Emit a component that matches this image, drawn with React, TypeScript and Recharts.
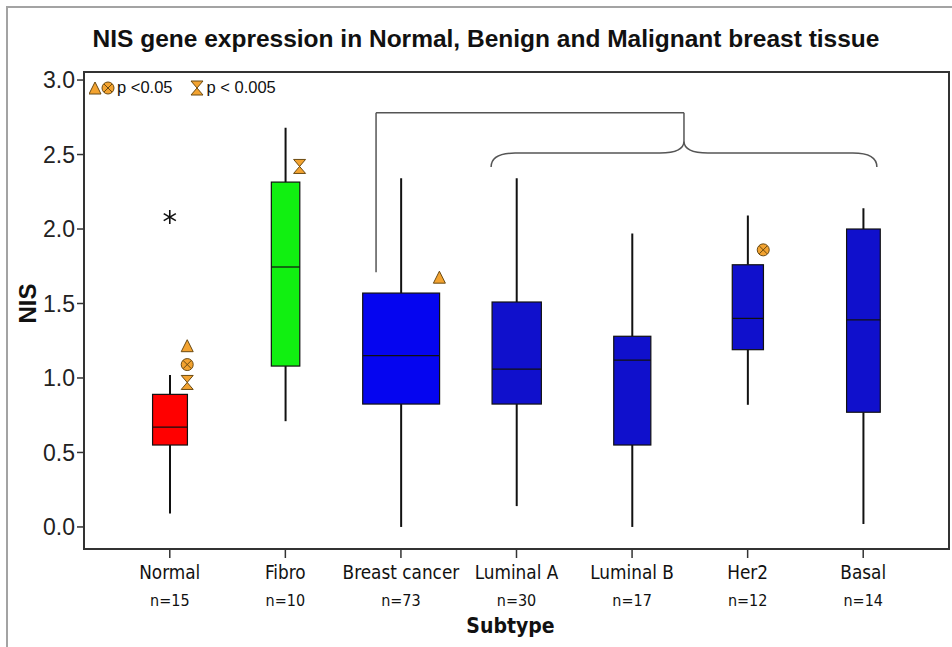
import React from 'react';
import {
  ComposedChart, Bar, Scatter, XAxis, YAxis, ReferenceLine, ReferenceArea,
} from 'recharts';

const categories = ['Normal', 'Fibro', 'Breast cancer', 'Luminal A', 'Luminal B', 'Her2', 'Basal'];
const counts = [15, 10, 73, 30, 17, 12, 14];
const whiskerLow = [0.09, 0.71, 0.0, 0.14, 0.0, 0.82, 0.02];
const quart1 = [0.55, 1.08, 0.825, 0.825, 0.55, 1.19, 0.77];
const medians = [0.67, 1.745, 1.15, 1.06, 1.12, 1.40, 1.39];
const quart3 = [0.89, 2.315, 1.57, 1.51, 1.28, 1.76, 2.0];
const whiskerHigh = [1.02, 2.68, 2.34, 2.34, 1.97, 2.09, 2.14];

// significance markers and outliers
const triangleMarks = [1.21, null, 1.67, null, null, null, null];
const circleMarks = [1.09, null, null, null, null, 1.86, null];
const hourglassMarks = [0.97, 2.42, null, null, null, null, null];
const outlierMarks = [2.08, null, null, null, null, null, null];

const yTicks = [0, 0.5, 1, 1.5, 2, 2.5, 3];

// bracket annotation (x in category index units)
const bracketLeftX = 1.784;
const bracketMidX = 4.45;
const bracketBottomY = 1.71;
const bracketTopY = 2.78;
const braceJoinY = 2.59;
const braceFromX = 2.78;
const braceToX = 6.12;
const braceY = 2.51;

const boxColors = ['#ff0000', '#11f011', '#0505f0', '#1010cc', '#1010cc', '#1010cc', '#1010cc'];
const ORANGE = '#f3a330';
const MARK_STROKE = '#6b4a12';
const BOX_SCALE = 9; // box width in px per sqrt(n)

const Y_DOMAIN: [number, number] = [-0.148, 3.054];
const X_NUM_DOMAIN: [number, number] = [0, 6];
const X_EDGE = 0.7446; // plot edge beyond first/last category, index units

const SANS = '"Liberation Sans", Arial, sans-serif';
const NARROW = '"Liberation Sans Narrow", "DejaVu Sans Condensed", "Liberation Sans", sans-serif';

const rows = categories.map((name, i) => ({
  name,
  n: counts[i],
  lo: whiskerLow[i],
  q1: quart1[i],
  med: medians[i],
  q3: quart3[i],
  hi: whiskerHigh[i],
  tri: triangleMarks[i],
  circ: circleMarks[i],
  hour: hourglassMarks[i],
  out: outlierMarks[i],
}));

function BoxShape(props: any) {
  const { x, y, width, height, payload } = props;
  const top = Math.min(y, y + height);
  const bot = Math.max(y, y + height);
  const px = (v: number) => bot + ((top - bot) * (v - payload.lo)) / (payload.hi - payload.lo);
  const cx = x + width / 2;
  const bw = BOX_SCALE * Math.sqrt(payload.n);
  const color = boxColors[categories.indexOf(payload.name)];
  return (
    <g>
      <line x1={cx} x2={cx} y1={px(payload.hi)} y2={px(payload.q3)} stroke="#111" strokeWidth={2} />
      <line x1={cx} x2={cx} y1={px(payload.q1)} y2={px(payload.lo)} stroke="#111" strokeWidth={2} />
      <rect x={cx - bw / 2} y={px(payload.q3)} width={bw} height={px(payload.q1) - px(payload.q3)}
        fill={color} stroke="#111" strokeWidth={1.2} />
      <line x1={cx - bw / 2} x2={cx + bw / 2} y1={px(payload.med)} y2={px(payload.med)} stroke="#111" strokeWidth={1.2} />
    </g>
  );
}

function Triangle({ x, y }: { x: number; y: number }) {
  return <polygon points={`${x},${y - 7} ${x - 6},${y + 5} ${x + 6},${y + 5}`} fill={ORANGE} stroke={MARK_STROKE} strokeWidth={1} />;
}
function CircleX({ x, y }: { x: number; y: number }) {
  const d = 4;
  return (
    <g>
      <circle cx={x} cy={y} r={6} fill={ORANGE} stroke={MARK_STROKE} strokeWidth={1} />
      <line x1={x - d} y1={y - d} x2={x + d} y2={y + d} stroke={MARK_STROKE} strokeWidth={1} />
      <line x1={x - d} y1={y + d} x2={x + d} y2={y - d} stroke={MARK_STROKE} strokeWidth={1} />
    </g>
  );
}
function Hourglass({ x, y }: { x: number; y: number }) {
  return <path d={`M${x - 6},${y - 7} L${x + 6},${y - 7} L${x - 6},${y + 7} L${x + 6},${y + 7} Z`} fill={ORANGE} stroke={MARK_STROKE} strokeWidth={1} strokeLinejoin="round" />;
}
function Asterisk({ x, y }: { x: number; y: number }) {
  const r = 7;
  const angles = [90, 30, -30];
  return (
    <g stroke="#111" strokeWidth={1.6}>
      {angles.map((a) => {
        const dx = r * Math.cos((a * Math.PI) / 180);
        const dy = r * Math.sin((a * Math.PI) / 180);
        return <line key={a} x1={x - dx} y1={y - dy} x2={x + dx} y2={y + dy} />;
      })}
    </g>
  );
}

const markerShape = (key: string, Comp: any, atEdge: boolean) => (props: any) => {
  const { cx, cy, payload } = props;
  if (!payload || payload[key] == null || !isFinite(cy)) return <g />;
  const dx = atEdge ? (BOX_SCALE * Math.sqrt(payload.n)) / 2 : 0;
  return <Comp x={cx + dx} y={cy} />;
};

function CategoryTick(props: any) {
  const { x, y, payload } = props;
  const i = categories.indexOf(payload.value);
  return (
    <g>
      <text x={x} y={y + 19} textAnchor="middle" fontFamily={NARROW} fontSize={18.8} fill="#111">{payload.value}</text>
      <text x={x} y={y + 46} textAnchor="middle" fontFamily={NARROW} fontSize={16} fill="#111">{`n=${counts[i]}`}</text>
    </g>
  );
}

function BraceShape(props: any) {
  const { x1, x2, y1 } = props;
  const mid = (x1 + x2) / 2;
  const r = 24;
  const d = `M${x1},${y1 + 14} Q${x1},${y1} ${x1 + r},${y1} L${mid - r},${y1} Q${mid},${y1} ${mid},${y1 - 12} Q${mid},${y1} ${mid + r},${y1} L${x2 - r},${y1} Q${x2},${y1} ${x2},${y1 + 14}`;
  return <path d={d} fill="none" stroke="#555" strokeWidth={1.5} />;
}

export default function App() {
  return (
    <div style={{ position: 'absolute', left: 0, top: 0, width: 952, height: 647, background: '#fff' }}>
      <div style={{ position: 'absolute', left: 6, top: 6, right: 0, bottom: 0, borderTop: '2px solid #a3a3a3', borderLeft: '2px solid #a3a3a3' }} />
      <div style={{ position: 'absolute', left: 10, top: 25, width: 952, textAlign: 'center', fontFamily: SANS, fontWeight: 'bold', fontSize: 24.5, color: '#111' }}>
        NIS gene expression in Normal, Benign and Malignant breast tissue
      </div>
      <div style={{ position: 'absolute', left: 89, top: 78, display: 'flex', alignItems: 'center', fontFamily: SANS, fontSize: 16.5, color: '#111' }}>
        <svg width={26} height={16}><Triangle x={6} y={9} /><CircleX x={19} y={8} /></svg>
        <span style={{ marginLeft: 2 }}>p &lt;0.05</span>
        <svg width={16} height={16} style={{ marginLeft: 16 }}><Hourglass x={8} y={8} /></svg>
        <span style={{ marginLeft: 2 }}>p &lt; 0.005</span>
      </div>
      <ComposedChart width={952} height={647} data={rows} margin={{ top: 72, right: 3, bottom: 0, left: 0 }}>
        <XAxis dataKey="name" height={98} padding={{ left: 28, right: 28 }} axisLine={false}
          tickLine={{ stroke: '#333', strokeWidth: 1.5 }} tickSize={9} tick={<CategoryTick />} interval={0}
          label={{
            content: (p: any) => {
              const vb = p.viewBox || {};
              return <text x={vb.x + vb.width / 2 - 6} y={633} textAnchor="middle" fontFamily={NARROW} fontWeight="bold" fontSize={21} fill="#111">Subtype</text>;
            },
          }} />
        <XAxis xAxisId="num" type="number" domain={X_NUM_DOMAIN} padding={{ left: 86, right: 86 }} allowDataOverflow hide />
        <YAxis type="number" domain={Y_DOMAIN} allowDataOverflow ticks={yTicks} width={84} axisLine={false}
          tickLine={{ stroke: '#333', strokeWidth: 1.5 }} tickSize={7} tickFormatter={(v: number) => v.toFixed(1)}
          tick={{ fontFamily: SANS, fontSize: 23, fill: '#222' }}
          label={{
            content: (p: any) => {
              const vb = p.viewBox || {};
              const cy = vb.y + vb.height / 2 - 7;
              return <text x={27} y={cy} transform={`rotate(-90 27 ${cy})`} textAnchor="middle" dominantBaseline="central" fontFamily={SANS} fontWeight="bold" fontSize={24} fill="#111">NIS</text>;
            },
          }} />
        <Bar dataKey={(d: any) => [d.lo, d.hi]} barSize={40} shape={BoxShape} isAnimationActive={false} />
        <Scatter dataKey="out" shape={markerShape('out', Asterisk, false)} isAnimationActive={false} />
        <Scatter dataKey="tri" shape={markerShape('tri', Triangle, true)} isAnimationActive={false} />
        <Scatter dataKey="circ" shape={markerShape('circ', CircleX, true)} isAnimationActive={false} />
        <Scatter dataKey="hour" shape={markerShape('hour', Hourglass, true)} isAnimationActive={false} />
        <ReferenceLine xAxisId="num" ifOverflow="visible" stroke="#555" strokeWidth={1.5}
          segment={[{ x: bracketLeftX, y: bracketBottomY }, { x: bracketLeftX, y: bracketTopY }]} />
        <ReferenceLine xAxisId="num" ifOverflow="visible" stroke="#555" strokeWidth={1.5}
          segment={[{ x: bracketLeftX, y: bracketTopY }, { x: bracketMidX, y: bracketTopY }]} />
        <ReferenceLine xAxisId="num" ifOverflow="visible" stroke="#555" strokeWidth={1.5}
          segment={[{ x: bracketMidX, y: bracketTopY }, { x: bracketMidX, y: braceJoinY }]} />
        <ReferenceLine xAxisId="num" ifOverflow="visible" shape={BraceShape}
          segment={[{ x: braceFromX, y: braceY }, { x: braceToX, y: braceY }]} />
        <ReferenceArea xAxisId="num" x1={X_NUM_DOMAIN[0] - X_EDGE} x2={X_NUM_DOMAIN[1] + X_EDGE} y1={Y_DOMAIN[0]} y2={Y_DOMAIN[1]}
          fill="none" fillOpacity={0} stroke="#333" strokeWidth={2} ifOverflow="visible" />
      </ComposedChart>
    </div>
  );
}
